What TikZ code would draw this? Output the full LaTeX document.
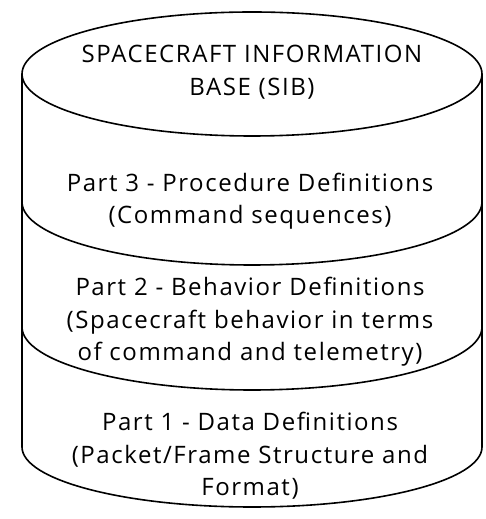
\documentclass[tikz,border=0pt]{standalone}
\usepackage{fontspec}
\setmainfont{Open Sans}[LetterSpace=6.5]
\usepackage{tikz}
\usetikzlibrary{positioning}
\tikzset{
  partlabel/.style={align=center, inner sep=0pt,
    font=\fontsize{24}{32.5}\selectfont},
  rim/.style={draw, line width=1.6pt},
}

\begin{document}
\begin{tikzpicture}[x=1pt, y=1pt]
  \useasboundingbox (0,0) rectangle (486,519);

  % Cylinder body
  \draw[rim] (252,445) ellipse[x radius=230, y radius=62];
  \draw[rim] (22,445) -- (22,72)
    arc[start angle=180, end angle=360, x radius=230, y radius=60]
    -- (482,445);
  \draw[rim] (22,317) arc[start angle=180, end angle=360, x radius=230, y radius=63];
  \draw[rim] (22,192) arc[start angle=180, end angle=360, x radius=230, y radius=63];

  % Parts
  \node[partlabel] (sib) at (252,447)
    {SPACECRAFT INFORMATION\\BASE (SIB)};
  \node[partlabel] (part3) at (250,318)
    {Part 3 - Procedure Definitions\\(Command sequences)};
  \node[partlabel] (part2) at (250,197)
    {Part 2 - Behavior Definitions\\(Spacecraft behavior in terms\\of command and telemetry)};
  \node[partlabel] (part1) at (250,63)
    {Part 1 - Data Definitions\\(Packet/Frame Structure and\\Format)};
\end{tikzpicture}
\end{document}
